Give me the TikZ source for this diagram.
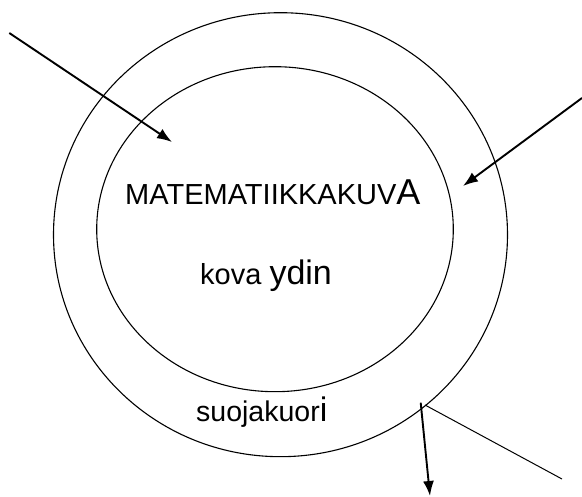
\documentclass[tikz,border=0pt]{standalone}
\usepackage{fontspec}
\setmainfont{Liberation Sans}
\usetikzlibrary{arrows.meta}
\begin{document}
\begin{tikzpicture}[x=1pt,y=-1pt,
  ring/.style={line width=1.1pt},
  bigarrow/.style={line width=1.9pt,-{Latex[length=15pt,width=11pt]}},
  thinline/.style={line width=1pt},
  lbl/.style={inner sep=0pt,anchor=base west}]
\useasboundingbox (0,0) rectangle (582,497);
% shells
\draw[ring] (280.5,234.7) ellipse [x radius=227, y radius=222];
\draw[ring] (275,229.2) ellipse [x radius=178.3, y radius=162.5];
% texts
\node[lbl] (mk) at (125,205) {\fontsize{29}{34}\selectfont MATEMATIIKKAKUV\fontsize{36}{42}\selectfont A};
\node[lbl] (ky) at (200,285) {\fontsize{29}{34}\selectfont kova \fontsize{34}{40}\selectfont ydin};
\node[lbl] (sk) at (196,421.7) {\fontsize{28.5}{34}\selectfont suojakuor\fontsize{34}{40}\selectfont i};
% connectors
\coordinate (a1s) at (9.3,33);
\coordinate (a1e) at (172,142);
\coordinate (a2s) at (582,98);
\coordinate (a2e) at (463,186);
\coordinate (a3s) at (420.7,402.7);
\coordinate (a3e) at (430,496);
\coordinate (l1s) at (425,405);
\coordinate (l1e) at (562,479);
\draw[bigarrow] (a1s) -- (a1e);
\draw[bigarrow] (a2s) -- (a2e);
\draw[bigarrow] (a3s) -- (a3e);
\draw[thinline] (l1s) -- (l1e);
\end{tikzpicture}
\end{document}
